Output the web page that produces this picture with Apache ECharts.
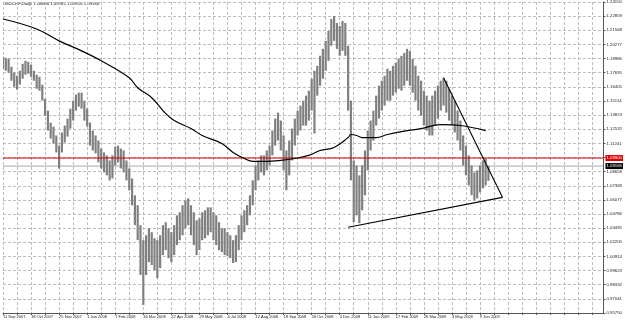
<!DOCTYPE html>
<html><head><meta charset="utf-8">
<script src="https://cdn.jsdelivr.net/npm/echarts@6/dist/echarts.min.js"></script>
<style>html,body{margin:0;padding:0;background:#fff}#c{width:625px;height:321px}</style>
</head><body><div id="c"></div>
<script>
const symbolTitle = 'USDCHF,Daily';
const lastOHLC = [1.08000, 1.09182, 1.07816, 1.09166];
const dateLabels = ['11 Sep 2007','18 Oct 2007','25 Nov 2007','1 Jan 2008','7 Feb 2008','16 Mar 2008','22 Apr 2008','29 May 2008','4 Jul 2008','12 Aug 2008','18 Sep 2008','26 Oct 2008','3 Dec 2008','11 Jan 2009','17 Feb 2009','26 Mar 2009','3 May 2009','9 Jun 2009'];
const yTickLabels = ['0.95750','0.97041','0.98332','0.99623','1.00914','1.02205','1.03495','1.04786','1.06077','1.07368','1.08659','1.09950','1.11241','1.12532','1.13823','1.15114','1.16405','1.17695','1.18986','1.20277','1.21568','1.22859','1.24150'];
const highs = [1.1914,1.1905,1.1896,1.1823,1.1769,1.1741,1.1787,1.1851,1.1878,1.1869,
1.1842,1.1787,1.1751,1.1732,1.1660,1.1532,1.1423,1.1314,1.1277,1.1196,
1.1104,1.1223,1.1287,1.1350,1.1441,1.1514,1.1569,1.1587,1.1587,1.1514,
1.1441,1.1314,1.1241,1.1196,1.1150,1.1077,1.1041,1.1014,1.0968,1.1014,
1.1095,1.1104,1.1077,1.1059,1.0968,1.0895,1.0804,1.0650,1.0559,1.0377,
1.0240,1.0285,1.0349,1.0313,1.0258,1.0240,1.0285,1.0377,1.0404,1.0349,
1.0313,1.0377,1.0467,1.0495,1.0559,1.0604,1.0622,1.0559,1.0495,1.0422,
1.0440,1.0495,1.0513,1.0540,1.0540,1.0495,1.0467,1.0404,1.0349,1.0349,
1.0313,1.0285,1.0240,1.0285,1.0377,1.0467,1.0513,1.0559,1.0650,1.0786,
1.0922,1.0968,1.1014,1.1014,1.1059,1.1104,1.1241,1.1350,1.1405,1.1332,
1.1196,1.1059,1.1150,1.1259,1.1350,1.1423,1.1469,1.1514,1.1560,1.1605,
1.1714,1.1787,1.1832,1.1924,1.1987,1.2060,1.2151,1.2260,1.2288,1.2224,
1.2197,1.2242,1.2224,1.2015,1.1514,1.0968,1.0922,1.0832,1.0922,1.1059,
1.1241,1.1332,1.1423,1.1560,1.1651,1.1696,1.1741,1.1805,1.1787,1.1832,
1.1860,1.1896,1.1924,1.1951,1.1987,1.1969,1.1896,1.1832,1.1741,1.1696,
1.1605,1.1560,1.1514,1.1560,1.1605,1.1651,1.1696,1.1723,1.1696,1.1623,
1.1560,1.1514,1.1423,1.1332,1.1196,1.1104,1.1014,1.0922,1.0859,1.0877,
1.0922,1.0968,1.0986,1.0918];
const lows = [1.1805,1.1787,1.1769,1.1696,1.1641,1.1614,1.1660,1.1714,1.1751,1.1760,
1.1732,1.1696,1.1623,1.1605,1.1514,1.1377,1.1241,1.1168,1.1123,1.1041,
1.0895,1.1041,1.1132,1.1186,1.1259,1.1332,1.1423,1.1459,1.1441,1.1332,
1.1277,1.1104,1.1059,1.1032,1.0950,1.0895,1.0859,1.0832,1.0786,1.0804,
1.0922,1.0950,1.0895,1.0859,1.0786,1.0695,1.0559,1.0377,1.0240,0.9922,
0.9649,0.9922,1.0040,1.0013,0.9967,0.9894,0.9985,1.0104,1.0149,1.0076,
1.0040,1.0104,1.0195,1.0240,1.0285,1.0349,1.0377,1.0285,1.0195,1.0104,
1.0149,1.0240,1.0258,1.0285,1.0313,1.0240,1.0195,1.0149,1.0131,1.0104,
1.0094,1.0076,1.0031,1.0040,1.0149,1.0240,1.0313,1.0377,1.0467,1.0559,
1.0695,1.0786,1.0859,1.0832,1.0877,1.0922,1.1014,1.1104,1.1150,1.1059,
1.0877,1.0695,1.0832,1.0968,1.1104,1.1196,1.1241,1.1287,1.1287,1.1332,
1.1423,1.1214,1.1560,1.1651,1.1714,1.1787,1.1878,1.2015,1.2060,1.1987,
1.1924,1.1969,1.1924,1.1423,1.0786,1.0404,1.0467,1.0395,1.0513,1.0650,
1.0877,1.1059,1.1150,1.1287,1.1350,1.1423,1.1469,1.1514,1.1514,1.1560,
1.1587,1.1623,1.1605,1.1651,1.1696,1.1651,1.1587,1.1514,1.1423,1.1377,
1.1287,1.1241,1.1196,1.1196,1.1287,1.1350,1.1423,1.1469,1.1405,1.1332,
1.1287,1.1223,1.1150,1.1059,1.0922,1.0832,1.0741,1.0650,1.0604,1.0622,
1.0677,1.0713,1.0741,1.0782];
const maIndex = [0,12,20,28,35,45,48,53,58,61,67,71,78,82,86,89,94,99,104,109,113,118,123,124,126,128,133,137,142,149,156,163,172];
const maValues = [1.2260,1.2169,1.2060,1.1969,1.1878,1.1723,1.1632,1.1541,1.1396,1.1332,1.1259,1.1196,1.1123,1.1041,1.0986,1.0959,1.0959,1.0968,1.0986,1.1014,1.1059,1.1086,1.1177,1.1205,1.1196,1.1177,1.1177,1.1205,1.1232,1.1259,1.1296,1.1287,1.1241];
const trendLowerIdx = [123, 178], trendLowerVal = [1.0358, 1.0631];
const trendUpperIdx = [157, 178], trendUpperVal = [1.1723, 1.0631];
const hLineLevel = 1.0990, hLineLabel = '1.09900';
const bidLevel = 1.09166, bidLabel = '1.09166';

const yMin = 0.9575, yMax = 1.2415, ySteps = 22;
const yStep = (yMax - yMin) / ySteps;
const N = 215;
const mon = ['Jan','Feb','Mar','Apr','May','Jun','Jul','Aug','Sep','Oct','Nov','Dec'];
const parseD = s => { const p = s.split(' '); return Date.UTC(+p[2], mon.indexOf(p[1]), +p[0]); };
const fmtD = t => { const d = new Date(t); return d.getUTCDate() + ' ' + mon[d.getUTCMonth()] + ' ' + d.getUTCFullYear(); };
const stamps = dateLabels.map(parseD);
const per = (stamps[stamps.length-1] - stamps[0]) / (stamps.length - 1);
const categories = [];
for (let i = 0; i < N; i++) {
  const k = Math.floor(i / 10), f = (i % 10) / 10;
  let t = k < stamps.length - 1 ? stamps[k] + f * (stamps[k+1] - stamps[k])
        : stamps[stamps.length-1] + (i - (stamps.length-1)*10) / 10 * per;
  categories.push(fmtD(Math.round(t / 86400000) * 86400000));
}
const barData = highs.map((h, i) => [i, lows[i], h]);
const maData = maIndex.map((ix, j) => [ix, maValues[j]]);
const FONT = 'Liberation Sans';

function levelSeries(level, color, lineWidth, label, boxColor, z) {
  return {
    type: 'line', data: [[0, level], [N - 1, level]], showSymbol: false, silent: true, z: z,
    lineStyle: {color: color, width: lineWidth, type: 'solid'},
    endLabel: {show: true, formatter: label, backgroundColor: boxColor, color: '#fff', fontSize: 4.3, fontFamily: FONT, padding: [1, 1], distance: 2}
  };
}

const chart = echarts.init(document.getElementById('c'), null, {renderer: 'canvas'});
chart.setOption({
  animation: false,
  backgroundColor: '#fff',
  grid: {left: 1, right: 21, top: 1, bottom: 8, show: false},
  xAxis: {
    type: 'category', data: categories, boundaryGap: false,
    axisLine: {show: true, lineStyle: {color: '#555', width: 1}},
    axisTick: {show: true, interval: 4, length: 2, lineStyle: {color: '#555'}},
    axisLabel: {interval: 9, align: 'left', fontSize: 4, fontFamily: FONT, color: '#222', margin: 2, hideOverlap: false,
      formatter: (v, idx) => (idx % 10 === 0 && idx / 10 < dateLabels.length) ? dateLabels[idx/10] : ''},
    splitLine: {show: true, interval: 4, lineStyle: {color: '#bdbdbd', type: [3, 2], width: 1}}
  },
  yAxis: {
    type: 'value', position: 'right', min: yMin, max: yMax, interval: yStep,
    axisLine: {show: true, lineStyle: {color: '#555', width: 1}},
    axisTick: {show: true, length: 2, inside: false, lineStyle: {color: '#555'}},
    axisLabel: {fontSize: 4.3, fontFamily: FONT, color: '#222', margin: 3,
      formatter: v => yTickLabels[Math.round((v - yMin) / yStep)] || ''},
    splitLine: {show: true, lineStyle: {color: '#bdbdbd', type: [3, 2], width: 1}}
  },
  graphic: [{type: 'text', left: 3, top: 2, style: {text: symbolTitle + '  ' + lastOHLC.map(v => v.toFixed(5)).join(' '), fontSize: 4.3, fontFamily: FONT, fill: '#111'}}],
  series: [
    {
      type: 'custom', data: barData, clip: true, z: 3,
      renderItem: (params, api) => {
        const i = api.value(0);
        const top = api.coord([i, api.value(2)]);
        const bot = api.coord([i, api.value(1)]);
        return {type: 'rect', shape: {x: top[0] - 1.1, y: top[1], width: 2.2, height: Math.max(1, bot[1] - top[1])}, style: {fill: '#808080'}};
      }
    },
    levelSeries(bidLevel, '#a8a8a8', 1, bidLabel, '#000', 2),
    levelSeries(hLineLevel, '#d40000', 1, hLineLabel, '#dd0000', 4),
    {type: 'line', data: maData, smooth: 0.4, showSymbol: false, lineStyle: {color: '#000', width: 1.2}, z: 5},
    {type: 'line', data: trendLowerIdx.map((x, j) => [x, trendLowerVal[j]]), showSymbol: false, lineStyle: {color: '#000', width: 1.1}, z: 6},
    {type: 'line', data: trendUpperIdx.map((x, j) => [x, trendUpperVal[j]]), showSymbol: false, lineStyle: {color: '#000', width: 1.1}, z: 6}
  ]
});
</script></body></html>
